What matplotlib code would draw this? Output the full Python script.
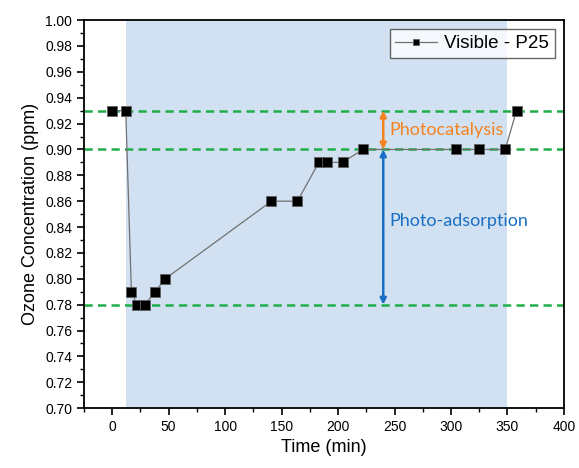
import matplotlib
matplotlib.use("Agg")
import matplotlib.pyplot as plt
from matplotlib.ticker import MultipleLocator

plt.rcParams['font.family'] = ['Liberation Sans', 'DejaVu Sans']

# data
time_min = [0, 12, 17, 22, 29, 38, 47, 141, 164, 183, 190, 204, 222, 304, 325, 348, 358]
ozone_ppm = [0.93, 0.93, 0.79, 0.78, 0.78, 0.79, 0.80, 0.86, 0.86, 0.89, 0.89, 0.89, 0.90, 0.90, 0.90, 0.90, 0.93]
light_on = 12
light_off = 350
ref_levels = [0.93, 0.90, 0.78]
arrow_x = 240

fig = plt.figure(figsize=(5.79, 4.68), dpi=100)
ax = fig.add_axes([0.145, 0.128, 0.829, 0.829])

ax.axvspan(light_on, light_off, color='#d2e1f2', zorder=0, lw=0)
for lvl in ref_levels:
    ax.axhline(lvl, color='#1fae4a', ls=(0, (3.3, 2.1)), lw=1.8, zorder=2)

ax.plot(time_min, ozone_ppm, color='#707070', lw=0.9, marker='s', ms=6.5,
        mfc='black', mec='#606060', mew=0.6, label='Visible - P25', zorder=3)

# arrows
ax.annotate('', xy=(arrow_x, ref_levels[0]), xytext=(arrow_x, ref_levels[1]),
            arrowprops=dict(arrowstyle='<|-|>', color='#f58220', lw=1.8,
                            mutation_scale=9, shrinkA=0, shrinkB=0), zorder=4)
ax.annotate('', xy=(arrow_x, ref_levels[1]), xytext=(arrow_x, ref_levels[2]),
            arrowprops=dict(arrowstyle='<|-|>', color='#1a6fc4', lw=1.8,
                            mutation_scale=9, shrinkA=0, shrinkB=0), zorder=4)
ax.text(arrow_x + 5, 0.915, 'Photocatalysis', color='#f58220', fontsize=13,
        family=['Lato', 'DejaVu Sans'], va='center', ha='left')
ax.text(arrow_x + 5, 0.845, 'Photo-adsorption', color='#1a6fc4', fontsize=13,
        family=['Lato', 'DejaVu Sans'], va='center', ha='left')

ax.set_xlim(-25, 400)
ax.set_ylim(0.70, 1.00)
ax.xaxis.set_major_locator(MultipleLocator(50))
ax.xaxis.set_minor_locator(MultipleLocator(25))
ax.yaxis.set_major_locator(MultipleLocator(0.02))
ax.yaxis.set_minor_locator(MultipleLocator(0.01))
ax.yaxis.set_major_formatter(plt.FormatStrFormatter('%.2f'))
ax.tick_params(which='major', direction='out', length=5, width=1.2, labelsize=10)
ax.tick_params(which='minor', direction='out', length=3, width=1.0)
for sp in ax.spines.values():
    sp.set_linewidth(1.3)

ax.set_xlabel('Time (min)', fontsize=13)
ax.set_ylabel('Ozone Concentration (ppm)', fontsize=13)

leg = ax.legend(loc='upper right', fontsize=13.5, frameon=True, fancybox=False,
                handlelength=2.2, borderpad=0.3, handletextpad=0.4,
                markerscale=0.6)
leg.get_frame().set_edgecolor('#404040')
leg.get_frame().set_linewidth(1.0)

fig.savefig('out.png', dpi=100)
